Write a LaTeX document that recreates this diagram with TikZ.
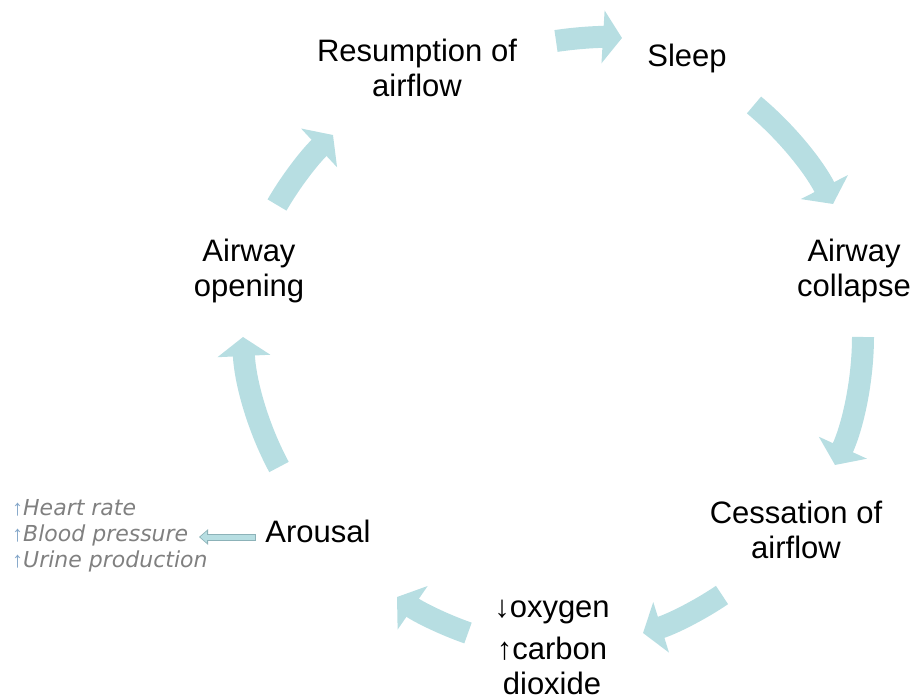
\documentclass[tikz,border=0pt]{standalone}
\usepackage{fontspec}
\setmainfont{Liberation Sans}
\newfontfamily\notefont{DejaVu Sans}
\usetikzlibrary{arrows.meta}
\definecolor{cyc}{RGB}{183,222,226}
\definecolor{cycedge}{RGB}{140,178,184}
\definecolor{note}{RGB}{128,128,128}
\definecolor{noteup}{RGB}{130,165,200}

\begin{document}
\begin{tikzpicture}[x=1pt,y=1pt,
  stage/.style={align=center,font=\fontsize{31}{35}\selectfont},
  cycarrow/.style={draw=cyc,line width=22pt,looseness=0.85,
    -{Triangle[width=52pt,length=19pt]}}]
  \useasboundingbox (0,0) rectangle (915,699);
  \node[stage] (1) at (417,631) {Resumption of\\airflow};
  \node[stage] (2) at (687,641) {Sleep};
  \node[stage] (3) at (854,428) {Airway\\collapse};
  \node[stage] (4) at (796,169) {Cessation of\\airflow};
  \node[stage] (5) at (552,52) {↓oxygen\\[7pt]↑carbon\\dioxide};
  \node[stage] (6) at (318,168) {Arousal};
  \node[stage] (7) at (249,428) {Airway\\opening};
  \node[anchor=west,align=left,inner sep=0pt,text=note,
    font=\fontsize{22}{26}\selectfont] (8) at (12,163)
    {{\color{noteup}↑}{\notefont\itshape Heart rate}\\
     {\color{noteup}↑}{\notefont\itshape Blood pressure}\\
     {\color{noteup}↑}{\notefont\itshape Urine production}};
  % arrow ends on the cycle
  \coordinate (s1) at (556,658); \coordinate (e1) at (622,661);
  \coordinate (s2) at (754,594); \coordinate (e2) at (833,495);
  \coordinate (s3) at (863,362); \coordinate (e3) at (835,234);
  \coordinate (s4) at (722,104); \coordinate (e4) at (643,66);
  \coordinate (s5) at (468,66);  \coordinate (e5) at (397,102);
  \coordinate (s6) at (279,232); \coordinate (e6) at (243,362);
  \coordinate (s7) at (277,494); \coordinate (e7) at (333,564);
  \draw[cycarrow] (s1) to[bend left=6] (e1);
  \draw[cycarrow] (s2) to[bend left=11.6] (e2);
  \draw[cycarrow] (s3) to[bend left=12.2] (e3);
  \draw[cycarrow] (s4) to[bend left=8.4] (e4);
  \draw[cycarrow] (s5) to[bend left=7.7] (e5);
  \draw[cycarrow] (s6) to[bend left=12.8] (e6);
  \draw[cycarrow] (s7) to[bend left=8.5] (e7);
  % from Arousal to its effects
  \coordinate (s8) at (256,162); \coordinate (e8) at (199,162);
  \draw[line width=7pt,draw=cycedge,-{Triangle[width=15pt,length=9pt]}] (s8) -- (e8);
  \draw[line width=5pt,draw=cyc,-{Triangle[width=11pt,length=6.5pt]},
    shorten >=1.3pt,shorten <=1pt] (s8) -- (e8);
\end{tikzpicture}
\end{document}
